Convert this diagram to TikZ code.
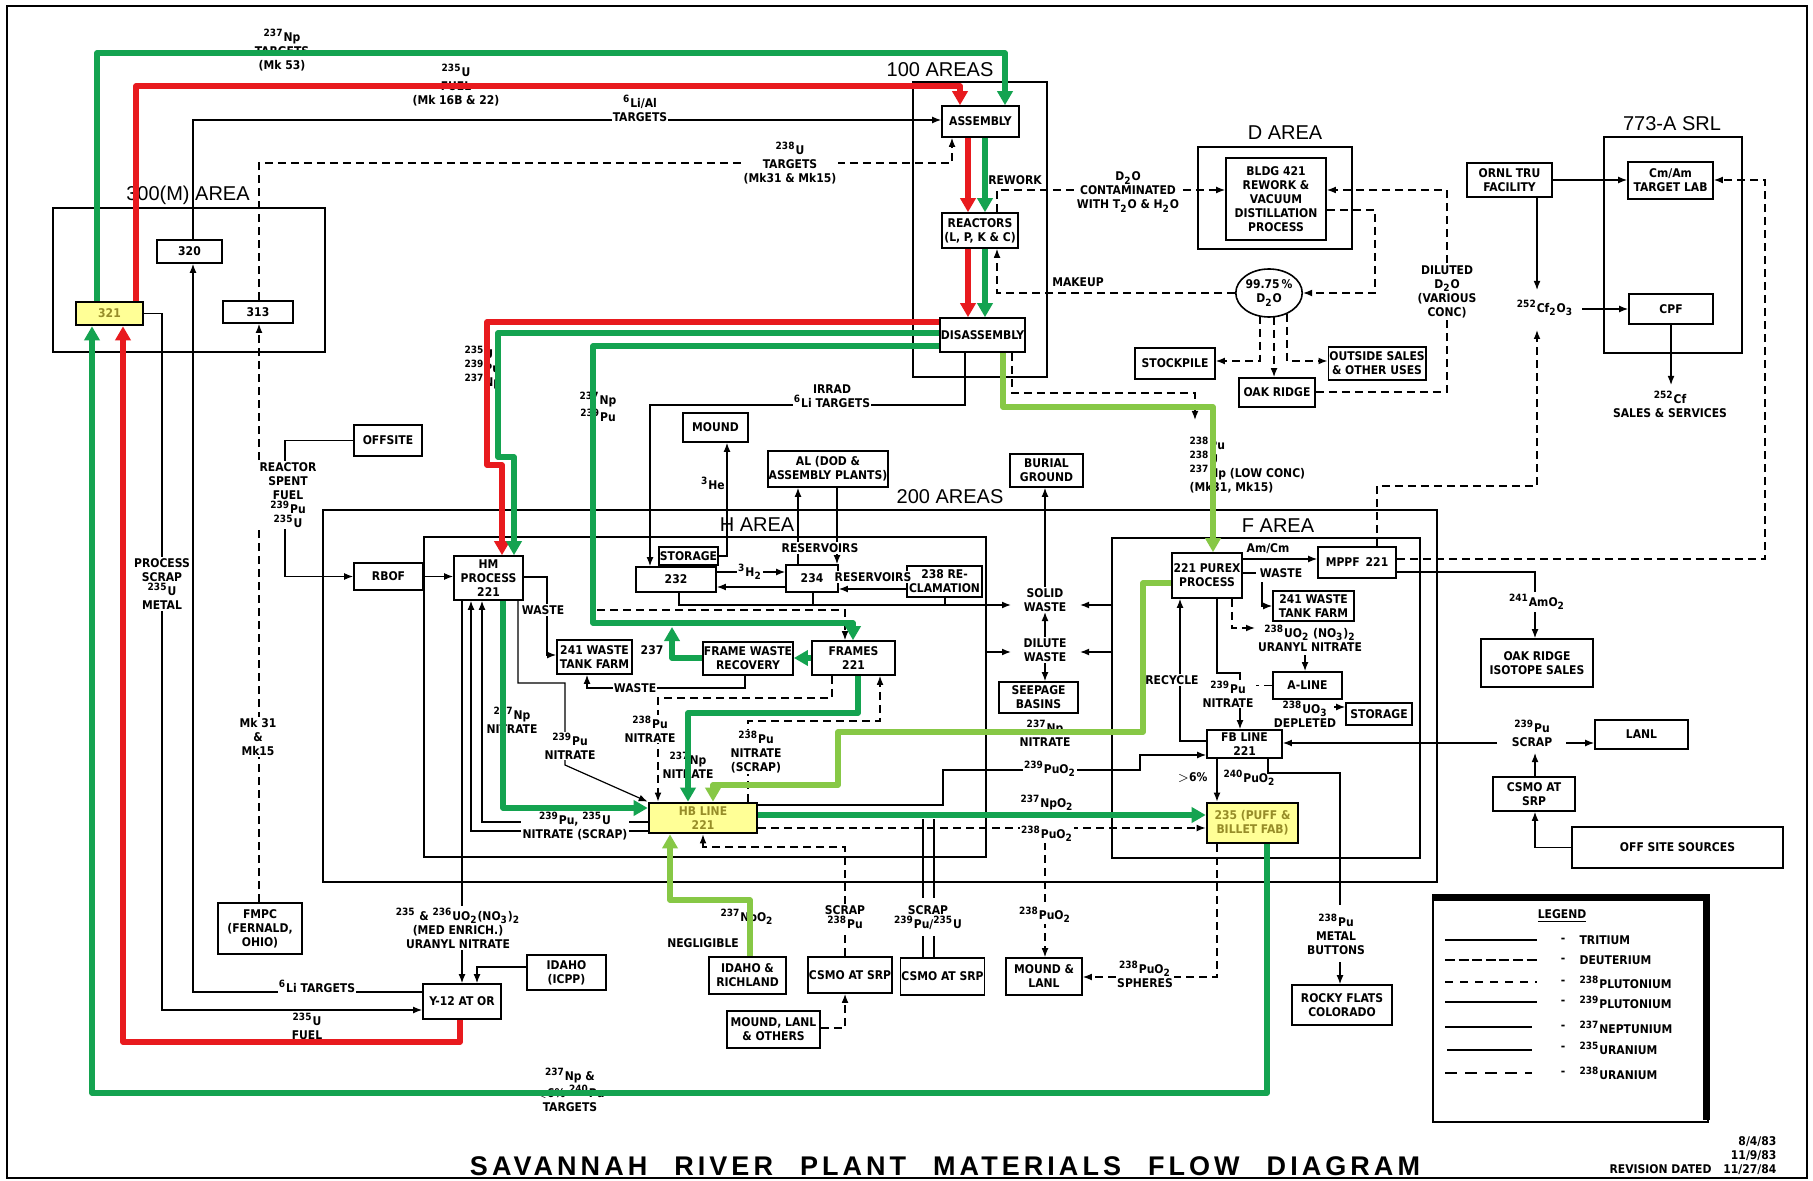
\documentclass[tikz,border=0pt]{standalone}
\usepackage{fontspec}
\setmainfont{DejaVu Sans Condensed}
\newfontfamily\areafont{Liberation Sans}
\newfontfamily\titlefont{Liberation Sans}[LetterSpace=15]
\usetikzlibrary{arrows.meta,shapes.geometric}
\definecolor{rd}{RGB}{232,26,30}
\definecolor{gn}{RGB}{20,163,80}
\definecolor{lg}{RGB}{135,200,70}
\definecolor{yl}{RGB}{255,255,150}
\definecolor{ol}{RGB}{150,140,40}
\newcommand{\sut}[1]{\textsuperscript{#1}}
\newcommand{\sbt}[1]{\textsubscript{#1}}
\newcommand{\lf}{\fontsize{6}{7}\bfseries\selectfont}
\tikzset{
 box/.style={draw,line width=0.8pt,fill=white,inner sep=0.5pt,align=center,font=\lf},
 ybox/.style={box,fill=yl,line width=1.3pt,text=ol},
 lbl/.style={inner sep=0.6pt,align=center,font=\lf},
 lblw/.style={lbl,fill=white},
 area/.style={draw,line width=1pt},
 aname/.style={font=\areafont\fontsize{10}{12}\selectfont,inner sep=0pt},
 bl/.style={line width=0.6pt},
 ar/.style={-{Latex[length=4.5pt,width=3.4pt]}},
 ds/.style={line width=0.7pt,dash pattern=on 4pt off 2.5pt},
 cl/.style={line width=2.6pt,line join=round,-{Triangle[length=7pt,width=7.5pt]}},
 rl/.style={cl,draw=rd}, gl/.style={cl,draw=gn}, ll/.style={cl,draw=lg},
}
\newcommand{\bx}[7][]{\node[box,#1,minimum width={(#5-#3)*0.5pt},minimum height={(#6-#4)*0.5pt}] (#2) at ({(#3+#5)/2},{(#4+#6)/2}) {#7};}
\begin{document}
\begin{tikzpicture}[x=0.5pt,y=-0.5pt]
\useasboundingbox (0,0) rectangle (1813,1181);
\fill[white] (0,0) rectangle (1813,1181);
\draw[line width=1.2pt] (7,6) rectangle (1807,1178);
% areas
\draw[area] (53,208) rectangle (325,352);
\node[aname] at (188,195) {300(M) AREA};
\draw[area] (913,82) rectangle (1047,377);
\node[aname] at (940,70) {100 AREAS};
\draw[area] (1198,147) rectangle (1352,249);
\node[aname] at (1285,133) {D AREA};
\draw[area] (1604,137) rectangle (1742,353);
\node[aname] at (1672,124) {773-A SRL};
\draw[area] (323,510) rectangle (1437,882);
\node[aname] at (950,497) {200 AREAS};
\draw[area] (424,537) rectangle (986,857);
\node[aname] at (757,525) {H AREA};
\draw[area] (1112,538) rectangle (1420,858);
\node[aname] at (1278,526) {F AREA};
% boxes
\bx[ybox]{b321}{76}{302}{143}{325}{321}
\bx{b320}{157}{240}{222}{263}{320}
\bx{b313}{223}{301}{293}{323}{313}
\bx{asm}{942}{106}{1019}{137}{ASSEMBLY}
\bx{rea}{942}{213}{1018}{248}{REACTORS\\(L, P, K \& C)}
\bx{dis}{941}{318}{1024}{352}{DISASSEMBLY}
\bx{bldg}{1226}{158}{1326}{240}{BLDG 421\\REWORK \&\\VACUUM\\DISTILLATION\\PROCESS}
\node[box,ellipse,minimum width=30pt,minimum height=24pt,inner sep=0pt] (d2o) at (1269,293) {99.75\,\%\\D\sbt{2}O};
\bx{stock}{1135}{348}{1215}{379}{STOCKPILE}
\bx{oakd}{1239}{378}{1315}{407}{OAK RIDGE}
\bx{outs}{1330}{347}{1424}{380}{OUTSIDE SALES\\\& OTHER USES}
\bx{ornl}{1467}{163}{1552}{197}{ORNL TRU\\FACILITY}
\bx{cmam}{1628}{162}{1713}{199}{Cm/Am\\TARGET LAB}
\bx{cpf}{1629}{294}{1713}{324}{CPF}
\bx{offsite}{354}{425}{422}{456}{OFFSITE}
\bx{rbof}{354}{563}{423}{590}{RBOF}
\bx{rm}{454}{556}{523}{600}{HM\\PROCESS\\221}
\bx{mound}{683}{413}{748}{442}{MOUND}
\bx{al}{768}{451}{888}{487}{AL (DOD \&\\ASSEMBLY PLANTS)}
\bx{stor}{659}{547}{718}{565}{STORAGE}
\bx{b232}{636}{567}{716}{592}{232}
\bx{b234}{786}{565}{838}{592}{234}
\bx{rec}{907}{566}{982}{597}{238 RE-\\CLAMATION}
\bx{tfH}{557}{640}{632}{674}{241 WASTE\\TANK FARM}
\bx{fwr}{708}{642}{788}{675}{FRAME WASTE\\RECOVERY}
\bx{frames}{812}{641}{895}{675}{FRAMES\\221}
\bx[ybox]{hb}{649}{803}{757}{833}{HB LINE\\221}
\bx{burial}{1010}{454}{1083}{487}{BURIAL\\GROUND}
\bx{seep}{999}{682}{1078}{713}{SEEPAGE\\BASINS}
\bx{purex}{1172}{553}{1242}{598}{221 PUREX\\PROCESS}
\bx{mppf}{1318}{547}{1396}{578}{MPPF\enspace 221}
\bx{tfF}{1273}{591}{1354}{621}{241 WASTE\\TANK FARM}
\bx{aline}{1273}{672}{1342}{699}{A-LINE}
\bx{storF}{1346}{703}{1412}{725}{STORAGE}
\bx{fb}{1207}{730}{1282}{758}{FB LINE\\221}
\bx[ybox]{pb}{1207}{803}{1298}{843}{235 (PUFF \&\\BILLET FAB)}
\bx{orsales}{1481}{639}{1593}{687}{OAK RIDGE\\ISOTOPE SALES}
\bx{lanl}{1595}{720}{1688}{749}{LANL}
\bx{csmo3}{1493}{777}{1575}{811}{CSMO AT\\SRP}
\bx{offsrc}{1572}{827}{1783}{868}{OFF SITE SOURCES}
\bx{rocky}{1292}{985}{1392}{1025}{ROCKY FLATS\\COLORADO}
\bx{mlanl}{1006}{958}{1082}{995}{MOUND \&\\LANL}
\bx{csmo2}{903}{958}{982}{995}{CSMO AT SRP}
\bx{csmo1}{809}{957}{891}{993}{CSMO AT SRP}
\bx{mlo}{727}{1011}{820}{1048}{MOUND, LANL\\\& OTHERS}
\bx{idric}{709}{957}{786}{994}{IDAHO \&\\RICHLAND}
\bx{idaho}{527}{955}{606}{990}{IDAHO\\(ICPP)}
\bx{y12}{423}{984}{501}{1019}{Y-12 AT OR}
\bx{fmpc}{218}{903}{302}{954}{FMPC\\(FERNALD,\\OHIO)}
% black solid connectors
\draw[bl,ar] (b320.north -| 193,0) -- (193,120) -- (asm.west |- 0,120);
\draw[bl,ar] (y12.west |- 0,992) -- (193,992) -- (b320.south -| 193,0);
\draw[bl,ar] (b321.east) -- (162,313.5) -- (162,1010) -- (y12.west |- 0,1010);
\draw[bl,ar] (offsite.west) -- (285,440.5) -- (285,576.5) -- (rbof.west);
\draw[bl,ar] (rbof.east) -- (rm.west |- rbof.east);
\draw[bl,ar] (rm.east |- 0,577) -- (547,577) -- (547,655) -- (tfH.west |- 0,655);
\draw[bl,ar] (fwr.south -| 745,0) -- (745,688) -- (587,688) -- (tfH.south -| 587,0);
\draw[bl,ar] (rm.south -| 518,0) -- (518,683) -- (565,683) -- (565,765) -- (hb.north west);
\draw[bl,ar] (hb.west |- 0,822) -- (482,822) -- (rm.south -| 482,0);
\draw[bl,ar] (hb.west |- 0,831) -- (471,831) -- (rm.south -| 471,0);
\draw[bl,ar] (rm.south -| 462,0) -- (y12.north -| 462,0);
\draw[bl,ar] (idaho.west |- 0,967) -- (477,967) -- (y12.north -| 477,0);
\draw[bl,ar] (dis.south -| 965,0) -- (965,405) -- (650,405) -- (b232.north -| 650,0);
\draw[bl,ar] (stor.east) -- (727,556) -- (mound.south -| 727,0);
\draw[bl,ar] (b232.east |- 0,572) -- (b234.west |- 0,572);
\draw[bl,ar] (b234.west |- 0,587) -- (b232.east |- 0,587);
\draw[bl,ar] (b234.north -| 798,0) -- (al.south -| 798,0);
\draw[bl,ar] (al.south -| 837,0) -- (b234.north -| 837,0);
\draw[bl,ar] (rec.west |- 0,589) -- (b234.east |- 0,589);
\draw[bl,ar] (b232.south -| 679,0) -- (679,605) -- (1011,605);
\draw[bl] (b234.south -| 813,0) -- (813,605);
\draw[bl] (rec.south -| 945,0) -- (945,605);
\draw[bl,ar] (986,652) -- (1011,652);
\draw[bl,ar] (1112,605) -- (1080,605);
\draw[bl,ar] (1112,652) -- (1080,652);
\draw[bl,ar] (1045,590) -- (burial.south -| 1045,0);
\draw[bl,ar] (1045,640) -- (1045,612);
\draw[bl,ar] (1045,662) -- (seep.north -| 1045,0);
\draw[bl,ar] (purex.east |- 0,559) -- (mppf.west |- 0,559);
\draw[bl] (purex.east |- 0,573) -- (1256,573);
\draw[bl,ar] (1262,582) -- (1262,606) -- (tfF.west |- 0,606);
\draw[bl,ar] (purex.south -| 1217,0) -- (1217,673) -- (1240,673) -- (fb.north -| 1240,0);
\draw[bl,ar] (fb.west |- 0,741) -- (1180,741) -- (purex.south -| 1180,0);
\draw[bl,ar] (1497,743) -- (fb.east |- 0,743);
\draw[bl,ar] (1566,743) -- (lanl.west |- 0,743);
\draw[bl,ar] (csmo3.north -| 1535,0) -- (1535,753);
\draw[bl,ar] (offsrc.west) -- (1535,847.5) -- (csmo3.south -| 1535,0);
\draw[bl] (mppf.east |- 0,572) -- (1535,572) -- (1535,592);
\draw[bl,ar] (1535,612) -- (orsales.north -| 1535,0);
\draw[bl,ar] (hb.east |- 0,805) -- (943,805) -- (943,770) -- (1140,770) -- (1140,755) -- (fb.west |- 0,755);
\draw[bl] (923,819) -- (923,898);
\draw[bl] (934,819) -- (934,898);
\draw[bl] (923,936) -- (csmo2.north -| 923,0);
\draw[bl] (934,936) -- (csmo2.north -| 934,0);
\draw[bl,ar] (fb.south -| 1217,0) -- (pb.north -| 1217,0);
\draw[bl] (fb.south -| 1268,0) -- (1268,773) -- (1340,773) -- (1340,905);
\draw[bl,ar] (1340,962) -- (rocky.north -| 1340,0);
\draw[bl,ar] (ornl.east) -- (cmam.west |- ornl.east);
\draw[bl,ar] (ornl.south -| 1537,0) -- (1537,290);
\draw[bl,ar] (1582,309) -- (cpf.west);
\draw[bl,ar] (cpf.south) -- (1671,385);
% dashed connectors
\draw[ds,ar] (b313.north -| 259,0) -- (259,163) -- (952,163) -- (asm.south -| 952,0);
\draw[ds,ar] (fmpc.north -| 259,0) -- (b313.south -| 259,0);
\draw[ds,ar] (rea.north -| 997,0) -- (997,190) -- (bldg.west |- 0,190);
\draw[ds,ar] (d2o.west) -- (997,293) -- (rea.south -| 997,0);
\draw[ds,ar] (oakd.east |- 0,392) -- (1447,392) -- (1447,190) -- (bldg.east |- 0,190);
\draw[ds,ar] (bldg.east |- 0,210) -- (1375,210) -- (1375,293) -- (d2o.east);
\draw[ds,ar] (1260,316) -- (1260,361) -- (stock.east |- 0,361);
\draw[ds,ar] (1274,317) -- (oakd.north -| 1274,0);
\draw[ds,ar] (1287,314) -- (1287,361) -- (outs.west |- 0,361);
\draw[ds,ar] (mppf.north -| 1377,0) -- (1377,486) -- (1537,486) -- (1537,330);
\draw[ds,ar] (mppf.east |- 0,559) -- (1765,559) -- (1765,180) -- (cmam.east |- 0,180);
\draw[ds,ar] (dis.south -| 1012,0) -- (1012,393) -- (1195,393) -- (1195,420);
\draw[ds,ar] (597,610) -- (845,610) -- (frames.north -| 845,0);
\draw[ds,ar] (frames.south -| 832,0) -- (832,698) -- (658,698) -- (hb.north -| 658,0);
\draw[ds,ar] (hb.north -| 748,0) -- (748,721) -- (880,721) -- (frames.south -| 880,0);
\draw[ds,ar] (csmo1.north -| 845,0) -- (845,847) -- (703,847) -- (hb.south -| 703,0);
\draw[ds,ar] (mlo.east |- 0,1028) -- (845,1028) -- (csmo1.south -| 845,0);
\draw[ds,ar] (hb.east |- 0,828) -- (pb.west |- 0,828);
\draw[ds,ar] (1045,842) -- (mlanl.north -| 1045,0);
\draw[ds,ar] (pb.south -| 1217,0) -- (1217,977) -- (mlanl.east |- 0,977);
\draw[ds,ar] (purex.south -| 1232,0) -- (1232,628) -- (1255,628);
\draw[ds,ar] (1305,655) -- (aline.north -| 1305,0);
\draw[ds] (aline.west) -- (1256,685.5);
\draw[bl,ar] (1334,707) -- (storF.west |- 0,707);
% labels
\node[lbl] at (282,50) {\sut{237}Np\\TARGETS\\(Mk 53)};
\node[lbl] at (456,85) {\sut{235}U\\FUEL\\(Mk 16B \& 22)};
\node[lblw] at (640,108) {\sut{6}Li/Al\\TARGETS};
\node[lblw] at (790,163) {\sut{238}U\\TARGETS\\(Mk31 \& Mk15)};
\node[lbl] at (1015,180) {REWORK};
\node[lblw] at (1128,192) {D\sbt{2}O\\CONTAMINATED\\WITH T\sbt{2}O \& H\sbt{2}O};
\node[lbl] at (1078,282) {MAKEUP};
\node[lblw] at (1447,292) {DILUTED\\D\sbt{2}O\\(VARIOUS\\CONC)};
\node[lbl] at (1545,308) {\sut{252}Cf\sbt{2}O\sbt{3}};
\node[lbl] at (1670,404) {\sut{252}Cf\\SALES \& SERVICES};
\node[lbl,anchor=west,align=left] at (1188,465) {\sut{238}Pu\\\sut{238}U\\\sut{237}Np (LOW CONC)\\(Mk31, Mk15)};
\node[lblw] at (832,396) {IRRAD\\\sut{6}Li TARGETS};
\node[lbl] at (598,407) {\sut{237}Np\\\sut{239}Pu};
\node[lbl,anchor=west,align=left] at (463,368) {\sut{235}U\\\sut{239}Pu\\\sut{237}Np};
\node[lblw] at (288,495) {REACTOR\\SPENT\\FUEL\\\sut{239}Pu\\\sut{235}U};
\node[lblw] at (162,584) {PROCESS\\SCRAP\\\sut{235}U\\METAL};
\node[lblw] at (258,737) {Mk 31\\\&\\Mk15};
\node[lbl] at (713,483) {\sut{3}He};
\node[lblw] at (820,548) {RESERVOIRS};
\node[lblw] at (750,572) {\sut{3}H\sbt{2}};
\node[lblw] at (873,577) {RESERVOIRS};
\node[lblw] at (543,610) {WASTE};
\node[lblw] at (635,688) {WASTE};
\node[lbl] at (652,650) {237};
\node[lbl] at (512,720) {\sut{237}Np\\NITRATE};
\node[lblw] at (570,746) {\sut{239}Pu\\NITRATE};
\node[lblw] at (650,729) {\sut{238}Pu\\NITRATE};
\node[lbl] at (688,765) {\sut{237}Np\\NITRATE};
\node[lblw] at (756,752) {\sut{238}Pu\\NITRATE\\(SCRAP)};
\node[lblw] at (575,826) {\sut{239}Pu, \sut{235}U\\NITRATE (SCRAP)};
\node[lblw] at (1045,600) {SOLID\\WASTE};
\node[lblw] at (1045,650) {DILUTE\\WASTE};
\node[lbl] at (1045,733) {\sut{237}Np\\NITRATE};
\node[lblw] at (1050,769) {\sut{239}PuO\sbt{2}};
\node[lbl] at (1047,803) {\sut{237}NpO\sbt{2}};
\node[lblw] at (1047,834) {\sut{238}PuO\sbt{2}};
\node[lbl] at (1268,549) {Am/Cm};
\node[lbl] at (1281,573) {WASTE};
\node[lbl] at (1310,638) {\sut{238}UO\sbt{2} (NO\sbt{3})\sbt{2}\\URANYL NITRATE};
\node[lblw] at (1172,680) {RECYCLE};
\node[lblw] at (1228,694) {\sut{239}Pu\\NITRATE};
\node[lbl] at (1305,714) {\sut{238}UO\sbt{3}\\DEPLETED};
\node[lbl,anchor=east] at (1209,778) {$>$6\%};
\node[lbl,anchor=west] at (1222,778) {\sut{240}PuO\sbt{2}};
\node[lbl] at (1537,602) {\sut{241}AmO\sbt{2}};
\node[lbl] at (1532,733) {\sut{239}Pu\\SCRAP};
\node[lblw] at (1045,915) {\sut{238}PuO\sbt{2}};
\node[lblw] at (1145,974) {\sut{238}PuO\sbt{2}\\SPHERES};
\node[lbl] at (928,918) {SCRAP\\\sut{239}Pu/\sut{235}U};
\node[lblw] at (845,917) {SCRAP\\\sut{238}Pu};
\node[lbl] at (747,917) {\sut{237}NpO\sbt{2}};
\node[lbl] at (703,943) {NEGLIGIBLE};
\node[lbl] at (1336,934) {\sut{238}Pu\\METAL\\BUTTONS};
\node[lblw] at (458,928) {\sut{235} \& \sut{236}UO\sbt{2}(NO\sbt{3})\sbt{2}\\(MED ENRICH.)\\URANYL NITRATE};
\node[lblw] at (317,986) {\sut{6}Li TARGETS};
\node[lbl] at (307,1026) {\sut{235}U\\FUEL};
\node[lbl] at (570,1090) {\sut{237}Np \&\\$<$6\% \sut{240}Pu\\TARGETS};
% colored flows
\draw[rl] (b321.north -| 136,0) -- (136,86) -- (960,86) -- (asm.north -| 960,0);
\draw[rl] (asm.south -| 968,0) -- (rea.north -| 968,0);
\draw[rl] (rea.south -| 968,0) -- (dis.north -| 968,0);
\draw[rl] (dis.west |- 0,322) -- (487,322) -- (487,465) -- (502,465) -- (rm.north -| 502,0);
\draw[rl] (y12.south -| 460,0) -- (460,1042) -- (123,1042) -- (b321.south -| 123,0);
\draw[gl] (b321.north -| 97,0) -- (97,53) -- (1005,53) -- (asm.north -| 1005,0);
\draw[gl] (asm.south -| 985,0) -- (rea.north -| 985,0);
\draw[gl] (rea.south -| 985,0) -- (dis.north -| 985,0);
\draw[gl] (dis.west |- 0,333) -- (498,333) -- (498,457) -- (514,457) -- (rm.north -| 514,0);
\draw[gl] (dis.west |- 0,346) -- (593,346) -- (593,623) -- (853,623) -- (frames.north -| 853,0);
\draw[gl] (frames.west |- 0,658) -- (fwr.east |- 0,658);
\draw[gl] (fwr.west |- 0,658) -- (672,658) -- (672,627);
\draw[gl] (rm.south -| 503,0) -- (503,808) -- (hb.west |- 0,808);
\draw[gl] (frames.south -| 858,0) -- (858,713) -- (688,713) -- (hb.north -| 688,0);
\draw[gl] (hb.east |- 0,815) -- (pb.west |- 0,815);
\draw[gl] (pb.south -| 1267,0) -- (1267,1093) -- (92,1093) -- (b321.south -| 92,0);
\draw[ll] (dis.south -| 1003,0) -- (1003,407) -- (1213,407) -- (purex.north -| 1213,0);
\draw[ll] (purex.west |- 0,583) -- (1143,583) -- (1143,732) -- (838,732) -- (838,785) -- (713,785) -- (hb.north -| 713,0);
\draw[ll] (idric.north -| 750,0) -- (750,900) -- (670,900) -- (hb.south -| 670,0);
% legend
\draw[line width=0.8pt] (1433,895) rectangle (1708,1122);
\draw[line width=3.5pt] (1433,897) -- (1706,897) -- (1706,1120);
\node[lbl] at (1562,916) {\underline{LEGEND}};
\draw[line width=0.6pt] (1445,940) -- (1537,940);
\draw[line width=1.3pt,dash pattern=on 5pt off 1.8pt] (1445,960) -- (1540,960);
\draw[line width=0.8pt,dash pattern=on 4pt off 3.5pt] (1445,982) -- (1537,982);
\draw[line width=0.9pt] (1445,1002) -- (1537,1002);
\draw[line width=1.3pt] (1445,1027) -- (1532,1027);
\draw[line width=0.9pt] (1447,1050) -- (1532,1050);
\draw[line width=0.9pt,dash pattern=on 6pt off 4pt] (1445,1073) -- (1532,1073);
\foreach \yy in {940,960,982,1002,1027,1048,1073} \node[lbl] at (1563,\yy) {-};
\node[lbl,anchor=west] at (1578,940) {TRITIUM};
\node[lbl,anchor=west] at (1578,960) {DEUTERIUM};
\node[lbl,anchor=west] at (1578,982) {\sut{238}PLUTONIUM};
\node[lbl,anchor=west] at (1578,1002) {\sut{239}PLUTONIUM};
\node[lbl,anchor=west] at (1578,1027) {\sut{237}NEPTUNIUM};
\node[lbl,anchor=west] at (1578,1048) {\sut{235}URANIUM};
\node[lbl,anchor=west] at (1578,1073) {\sut{238}URANIUM};
% title
\node[font=\titlefont\bfseries\fontsize{13.5}{15}\selectfont,inner sep=0pt] at (945,1166) {SAVANNAH\quad RIVER\quad PLANT\quad MATERIALS\quad FLOW\quad DIAGRAM};
\node[lbl,anchor=east,align=right] at (1778,1156) {8/4/83\\11/9/83\\REVISION DATED\quad 11/27/84};
\end{tikzpicture}
\end{document}
